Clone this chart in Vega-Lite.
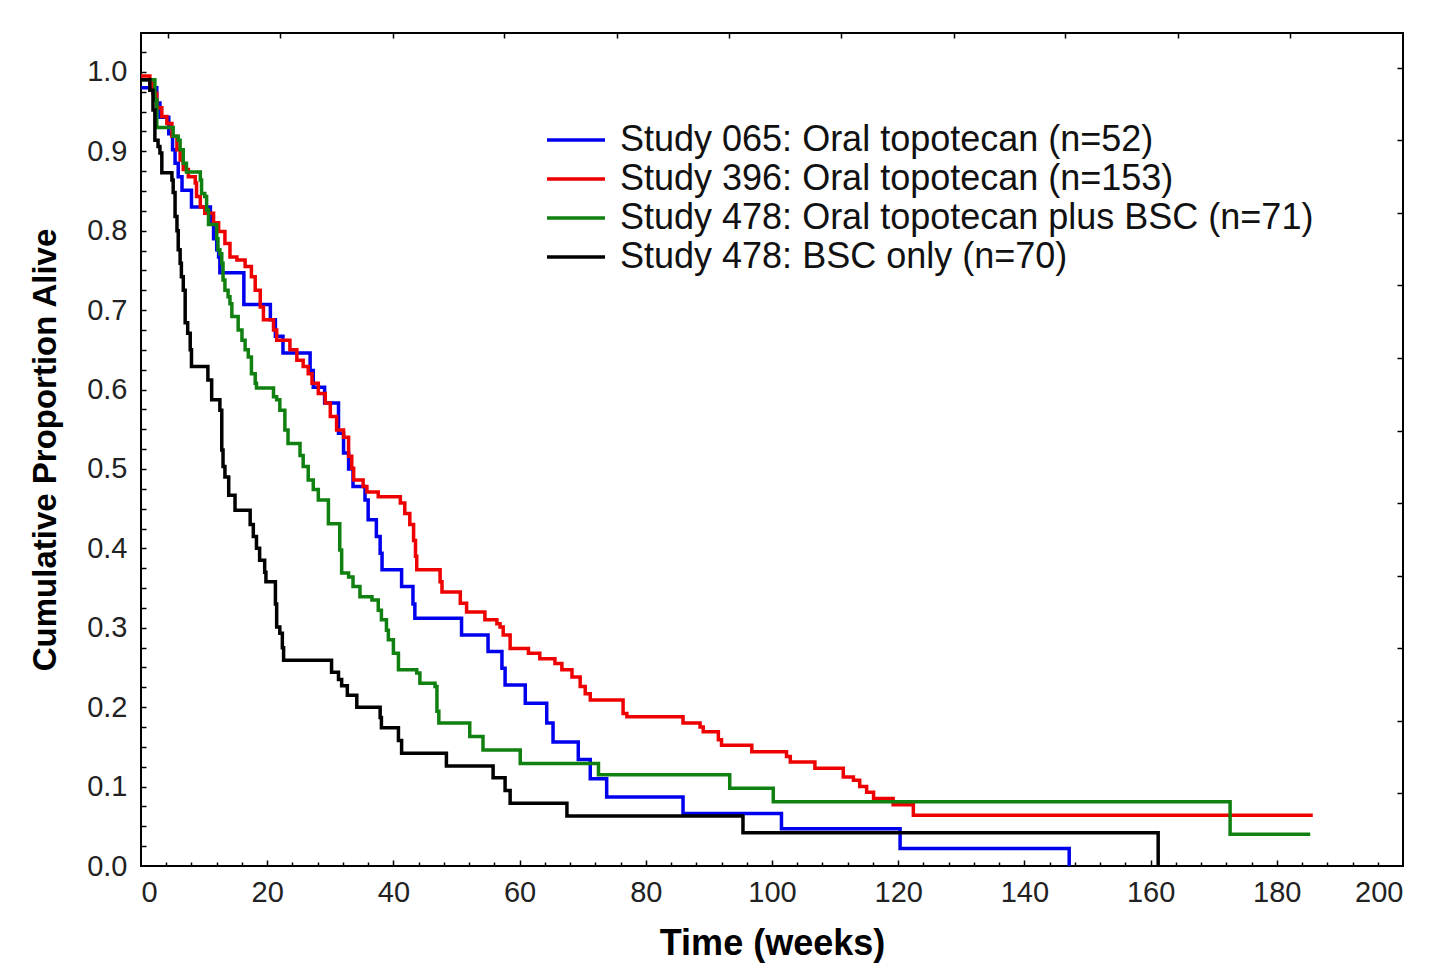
{
  "$schema": "https://vega.github.io/schema/vega-lite/v6.json",
  "width": 1262,
  "height": 833,
  "autosize": {"type": "none"},
  "padding": {"left": 141, "top": 33, "right": 29, "bottom": 104},
  "background": "white",
  "config": {
    "view": {"stroke": "#000", "strokeWidth": 2},
    "axis": {"domain": false, "grid": false, "labelFont": "Liberation Sans", "labelFontSize": 29, "labelColor": "#222", "tickColor": "#000", "tickWidth": 1.5, "titleFont": "Liberation Sans", "titleFontWeight": "bold", "titleColor": "#000"}
  },
  "data": {"values": [
    {"k":1,"w":0,"s":0.98},{"k":1,"w":2.5,"s":0.961},{"k":1,"w":3.0,"s":0.943},{"k":1,"w":4.4,"s":0.922},{"k":1,"w":5.0,"s":0.902},{"k":1,"w":5.4,"s":0.885},{"k":1,"w":5.9,"s":0.868},{"k":1,"w":6.5,"s":0.851},{"k":1,"w":8.0,"s":0.83},{"k":1,"w":11.0,"s":0.81},{"k":1,"w":11.5,"s":0.79},{"k":1,"w":12.0,"s":0.776},{"k":1,"w":12.3,"s":0.767},{"k":1,"w":12.5,"s":0.747},{"k":1,"w":16.3,"s":0.707},{"k":1,"w":20.5,"s":0.688},{"k":1,"w":21.3,"s":0.667},{"k":1,"w":22.5,"s":0.646},{"k":1,"w":26.8,"s":0.624},{"k":1,"w":27.3,"s":0.603},{"k":1,"w":29.1,"s":0.583},{"k":1,"w":31.3,"s":0.545},{"k":1,"w":32.1,"s":0.52},{"k":1,"w":32.9,"s":0.5},{"k":1,"w":33.6,"s":0.478},{"k":1,"w":35.5,"s":0.461},{"k":1,"w":36.0,"s":0.436},{"k":1,"w":37.3,"s":0.415},{"k":1,"w":37.9,"s":0.394},{"k":1,"w":38.2,"s":0.373},{"k":1,"w":41.3,"s":0.352},{"k":1,"w":43.1,"s":0.33},{"k":1,"w":43.4,"s":0.312},{"k":1,"w":50.8,"s":0.291},{"k":1,"w":55.0,"s":0.27},{"k":1,"w":57.2,"s":0.249},{"k":1,"w":57.7,"s":0.228},{"k":1,"w":60.9,"s":0.205},{"k":1,"w":64.3,"s":0.18},{"k":1,"w":65.3,"s":0.156},{"k":1,"w":69.3,"s":0.134},{"k":1,"w":71.2,"s":0.11},{"k":1,"w":73.8,"s":0.087},{"k":1,"w":85.9,"s":0.066},{"k":1,"w":101.5,"s":0.047},{"k":1,"w":120.3,"s":0.022},{"k":1,"w":147.1,"s":0},
    {"k":2,"w":0,"s":0.995},{"k":2,"w":1.4,"s":0.986},{"k":2,"w":1.9,"s":0.973},{"k":2,"w":2.5,"s":0.955},{"k":2,"w":3.3,"s":0.944},{"k":2,"w":4.1,"s":0.935},{"k":2,"w":4.9,"s":0.919},{"k":2,"w":5.7,"s":0.902},{"k":2,"w":6.2,"s":0.889},{"k":2,"w":6.7,"s":0.877},{"k":2,"w":7.5,"s":0.868},{"k":2,"w":8.6,"s":0.86},{"k":2,"w":8.8,"s":0.843},{"k":2,"w":9.4,"s":0.83},{"k":2,"w":10.1,"s":0.822},{"k":2,"w":11.5,"s":0.81},{"k":2,"w":12.3,"s":0.799},{"k":2,"w":13.3,"s":0.784},{"k":2,"w":14.1,"s":0.767},{"k":2,"w":15.2,"s":0.763},{"k":2,"w":16.5,"s":0.755},{"k":2,"w":17.5,"s":0.742},{"k":2,"w":18.1,"s":0.725},{"k":2,"w":18.9,"s":0.704},{"k":2,"w":19.4,"s":0.688},{"k":2,"w":21.0,"s":0.675},{"k":2,"w":21.5,"s":0.662},{"k":2,"w":23.6,"s":0.65},{"k":2,"w":24.7,"s":0.637},{"k":2,"w":25.7,"s":0.629},{"k":2,"w":26.5,"s":0.62},{"k":2,"w":27.1,"s":0.608},{"k":2,"w":28.1,"s":0.595},{"k":2,"w":29.2,"s":0.583},{"k":2,"w":30.0,"s":0.566},{"k":2,"w":31.0,"s":0.549},{"k":2,"w":32.1,"s":0.54},{"k":2,"w":32.9,"s":0.516},{"k":2,"w":33.4,"s":0.501},{"k":2,"w":33.7,"s":0.486},{"k":2,"w":35.2,"s":0.478},{"k":2,"w":35.8,"s":0.471},{"k":2,"w":37.6,"s":0.465},{"k":2,"w":41.1,"s":0.457},{"k":2,"w":41.8,"s":0.444},{"k":2,"w":42.6,"s":0.43},{"k":2,"w":43.2,"s":0.41},{"k":2,"w":43.5,"s":0.39},{"k":2,"w":43.7,"s":0.373},{"k":2,"w":47.4,"s":0.358},{"k":2,"w":47.7,"s":0.345},{"k":2,"w":50.6,"s":0.331},{"k":2,"w":51.6,"s":0.32},{"k":2,"w":54.5,"s":0.31},{"k":2,"w":56.4,"s":0.305},{"k":2,"w":56.9,"s":0.301},{"k":2,"w":57.4,"s":0.291},{"k":2,"w":58.5,"s":0.274},{"k":2,"w":61.4,"s":0.268},{"k":2,"w":63.2,"s":0.261},{"k":2,"w":65.6,"s":0.255},{"k":2,"w":66.7,"s":0.247},{"k":2,"w":68.3,"s":0.238},{"k":2,"w":69.6,"s":0.226},{"k":2,"w":70.4,"s":0.217},{"k":2,"w":71.2,"s":0.209},{"k":2,"w":76.4,"s":0.192},{"k":2,"w":77.0,"s":0.188},{"k":2,"w":85.9,"s":0.18},{"k":2,"w":88.6,"s":0.175},{"k":2,"w":89.1,"s":0.169},{"k":2,"w":91.5,"s":0.159},{"k":2,"w":92.0,"s":0.152},{"k":2,"w":96.8,"s":0.144},{"k":2,"w":102.3,"s":0.138},{"k":2,"w":102.9,"s":0.131},{"k":2,"w":106.8,"s":0.123},{"k":2,"w":111.3,"s":0.112},{"k":2,"w":112.9,"s":0.108},{"k":2,"w":113.9,"s":0.1},{"k":2,"w":115.0,"s":0.093},{"k":2,"w":116.1,"s":0.085},{"k":2,"w":119.2,"s":0.077},{"k":2,"w":122.4,"s":0.064},{"k":2,"w":185.7,"s":0.064},
    {"k":3,"w":0,"s":0.99},{"k":3,"w":2.2,"s":0.965},{"k":3,"w":2.5,"s":0.93},{"k":3,"w":5.1,"s":0.919},{"k":3,"w":5.9,"s":0.914},{"k":3,"w":6.2,"s":0.902},{"k":3,"w":6.7,"s":0.885},{"k":3,"w":7.2,"s":0.874},{"k":3,"w":9.4,"s":0.864},{"k":3,"w":9.6,"s":0.847},{"k":3,"w":10.1,"s":0.843},{"k":3,"w":10.4,"s":0.826},{"k":3,"w":10.7,"s":0.808},{"k":3,"w":12.0,"s":0.79},{"k":3,"w":12.2,"s":0.776},{"k":3,"w":12.5,"s":0.771},{"k":3,"w":12.8,"s":0.759},{"k":3,"w":13.0,"s":0.738},{"k":3,"w":13.3,"s":0.725},{"k":3,"w":13.8,"s":0.717},{"k":3,"w":14.1,"s":0.708},{"k":3,"w":14.4,"s":0.692},{"k":3,"w":15.4,"s":0.675},{"k":3,"w":16.0,"s":0.662},{"k":3,"w":16.5,"s":0.65},{"k":3,"w":17.0,"s":0.641},{"k":3,"w":17.5,"s":0.62},{"k":3,"w":18.1,"s":0.608},{"k":3,"w":18.3,"s":0.602},{"k":3,"w":21.0,"s":0.591},{"k":3,"w":21.5,"s":0.587},{"k":3,"w":22.0,"s":0.574},{"k":3,"w":22.8,"s":0.549},{"k":3,"w":23.3,"s":0.532},{"k":3,"w":25.2,"s":0.517},{"k":3,"w":25.7,"s":0.503},{"k":3,"w":26.5,"s":0.486},{"k":3,"w":27.3,"s":0.474},{"k":3,"w":28.1,"s":0.461},{"k":3,"w":29.7,"s":0.431},{"k":3,"w":31.5,"s":0.398},{"k":3,"w":31.8,"s":0.369},{"k":3,"w":32.9,"s":0.364},{"k":3,"w":33.6,"s":0.352},{"k":3,"w":34.7,"s":0.339},{"k":3,"w":36.6,"s":0.335},{"k":3,"w":37.6,"s":0.322},{"k":3,"w":38.1,"s":0.31},{"k":3,"w":38.9,"s":0.297},{"k":3,"w":39.2,"s":0.285},{"k":3,"w":40.0,"s":0.268},{"k":3,"w":40.8,"s":0.247},{"k":3,"w":43.7,"s":0.243},{"k":3,"w":44.2,"s":0.23},{"k":3,"w":46.6,"s":0.226},{"k":3,"w":46.9,"s":0.195},{"k":3,"w":47.2,"s":0.18},{"k":3,"w":52.1,"s":0.163},{"k":3,"w":54.2,"s":0.146},{"k":3,"w":60.1,"s":0.129},{"k":3,"w":72.5,"s":0.115},{"k":3,"w":93.3,"s":0.098},{"k":3,"w":100.2,"s":0.081},{"k":3,"w":172.6,"s":0.04},{"k":3,"w":185.3,"s":0.04},
    {"k":4,"w":0,"s":0.99},{"k":4,"w":1.4,"s":0.977},{"k":4,"w":1.9,"s":0.952},{"k":4,"w":2.2,"s":0.914},{"k":4,"w":2.7,"s":0.906},{"k":4,"w":3.0,"s":0.898},{"k":4,"w":3.3,"s":0.873},{"k":4,"w":4.9,"s":0.864},{"k":4,"w":5.1,"s":0.848},{"k":4,"w":5.4,"s":0.818},{"k":4,"w":5.7,"s":0.8},{"k":4,"w":5.9,"s":0.776},{"k":4,"w":6.2,"s":0.759},{"k":4,"w":6.4,"s":0.742},{"k":4,"w":6.7,"s":0.725},{"k":4,"w":7.0,"s":0.684},{"k":4,"w":7.4,"s":0.671},{"k":4,"w":7.8,"s":0.65},{"k":4,"w":8.0,"s":0.629},{"k":4,"w":10.6,"s":0.612},{"k":4,"w":11.2,"s":0.587},{"k":4,"w":12.5,"s":0.574},{"k":4,"w":12.8,"s":0.524},{"k":4,"w":13.0,"s":0.503},{"k":4,"w":13.3,"s":0.49},{"k":4,"w":13.9,"s":0.467},{"k":4,"w":14.9,"s":0.448},{"k":4,"w":17.3,"s":0.43},{"k":4,"w":17.8,"s":0.415},{"k":4,"w":18.3,"s":0.4},{"k":4,"w":18.8,"s":0.385},{"k":4,"w":19.6,"s":0.37},{"k":4,"w":19.8,"s":0.358},{"k":4,"w":21.3,"s":0.33},{"k":4,"w":21.5,"s":0.301},{"k":4,"w":22.0,"s":0.293},{"k":4,"w":22.4,"s":0.275},{"k":4,"w":22.6,"s":0.259},{"k":4,"w":30.2,"s":0.244},{"k":4,"w":31.3,"s":0.235},{"k":4,"w":31.8,"s":0.227},{"k":4,"w":32.7,"s":0.215},{"k":4,"w":34.2,"s":0.2},{"k":4,"w":37.9,"s":0.187},{"k":4,"w":38.1,"s":0.174},{"k":4,"w":40.8,"s":0.158},{"k":4,"w":41.3,"s":0.142},{"k":4,"w":48.4,"s":0.126},{"k":4,"w":55.8,"s":0.111},{"k":4,"w":57.7,"s":0.095},{"k":4,"w":58.5,"s":0.079},{"k":4,"w":67.5,"s":0.063},{"k":4,"w":95.4,"s":0.042},{"k":4,"w":161.2,"s":0}
  ]},
  "transform": [
    {"lookup": "k", "from": {"data": {"values": [
      {"k":1,"name":"Study 065: Oral topotecan (n=52)"},
      {"k":2,"name":"Study 396: Oral topotecan (n=153)"},
      {"k":3,"name":"Study 478: Oral topotecan plus BSC (n=71)"},
      {"k":4,"name":"Study 478: BSC only (n=70)"}
    ]}, "key": "k", "fields": ["name"]}}
  ],
  "layer": [
    {
      "mark": {"type": "line", "interpolate": "step-after", "strokeWidth": 3.5},
      "encoding": {
        "x": {"field": "w", "type": "quantitative", "scale": {"domain": [0, 200], "nice": false},
          "axis": {"orient": "bottom", "values": [0,20,40,60,80,100,120,140,160,180,200], "ticks": false, "labelPadding": 12, "title": "Time (weeks)", "titleFontSize": 36, "titlePadding": 19}},
        "y": {"field": "s", "type": "quantitative", "scale": {"domain": [0, 1.049], "nice": false, "zero": false},
          "axis": {"orient": "left", "values": [0,0.1,0.2,0.3,0.4,0.5,0.6,0.7,0.8,0.9,1.0], "format": ".1f", "ticks": false, "labelPadding": 14, "title": "Cumulative Proportion Alive", "titleFontSize": 33, "titlePadding": 24}},
        "color": {"field": "name", "type": "nominal",
          "scale": {"domain": ["Study 065: Oral topotecan (n=52)","Study 396: Oral topotecan (n=153)","Study 478: Oral topotecan plus BSC (n=71)","Study 478: BSC only (n=70)"], "range": ["#0000ee","#ee0000","#108010","#000000"]},
          "legend": {"orient": "none", "legendX": 417, "legendY": 89, "title": null, "padding": 0, "symbolType": "M-2,0H2", "symbolSize": 841, "symbolStrokeWidth": 3.5, "labelFont": "Liberation Sans", "labelFontSize": 36, "labelColor": "#111", "labelOffset": 26, "rowPadding": 3, "labelLimit": 900}}
      }
    },
    {
      "mark": {"type": "point", "opacity": 0},
      "encoding": {
        "x": {"field": "w", "type": "quantitative", "scale": {"domain": [0, 200], "nice": false},
          "axis": {"orient": "bottom", "values": [4,8,12,16,24,28,32,36,44,48,52,56,64,68,72,76,84,88,92,96,104,108,112,116,124,128,132,136,144,148,152,156,164,168,172,176,184,188,192,196], "labels": false, "tickSize": -4, "title": null}},
        "y": {"field": "s", "type": "quantitative", "scale": {"domain": [0, 1.049], "nice": false, "zero": false},
          "axis": {"orient": "left", "values": [0.025,0.05,0.075,0.1,0.125,0.15,0.175,0.2,0.225,0.25,0.275,0.3,0.325,0.35,0.375,0.4,0.425,0.45,0.475,0.5,0.525,0.55,0.575,0.6,0.625,0.65,0.675,0.7,0.725,0.75,0.775,0.8,0.825,0.85,0.875,0.9,0.925,0.95,0.975,1.0,1.025], "labels": false, "tickSize": -5, "title": null}}
      }
    },
    {
      "mark": {"type": "point", "opacity": 0},
      "encoding": {
        "x": {"field": "w", "type": "quantitative", "scale": {"domain": [0, 200], "nice": false},
          "axis": {"orient": "bottom", "values": [20,40,60,80,100,120,140,160,180], "labels": false, "tickSize": -6, "title": null}},
        "y": {"field": "s", "type": "quantitative", "scale": {"domain": [0, 1.049], "nice": false, "zero": false},
          "axis": {"orient": "right", "values": [0.0914,0.1828,0.2742,0.3656,0.457,0.5484,0.6398,0.7312,0.8226,0.914,1.0054], "labels": false, "tickSize": -6, "title": null}}
      }
    },
    {
      "mark": {"type": "point", "opacity": 0},
      "encoding": {
        "x": {"field": "w", "type": "quantitative", "scale": {"domain": [0, 200], "nice": false},
          "axis": {"orient": "top", "values": [4.3,22.1,39.9,57.6,75.4,93.2,111.0,128.8,146.5,164.3,182.1], "labels": false, "tickSize": -5, "title": null}},
        "y": {"field": "s", "type": "quantitative", "scale": {"domain": [0, 1.049], "nice": false, "zero": false}, "axis": null}
      }
    }
  ],
  "resolve": {"axis": {"x": "independent", "y": "independent"}}
}
